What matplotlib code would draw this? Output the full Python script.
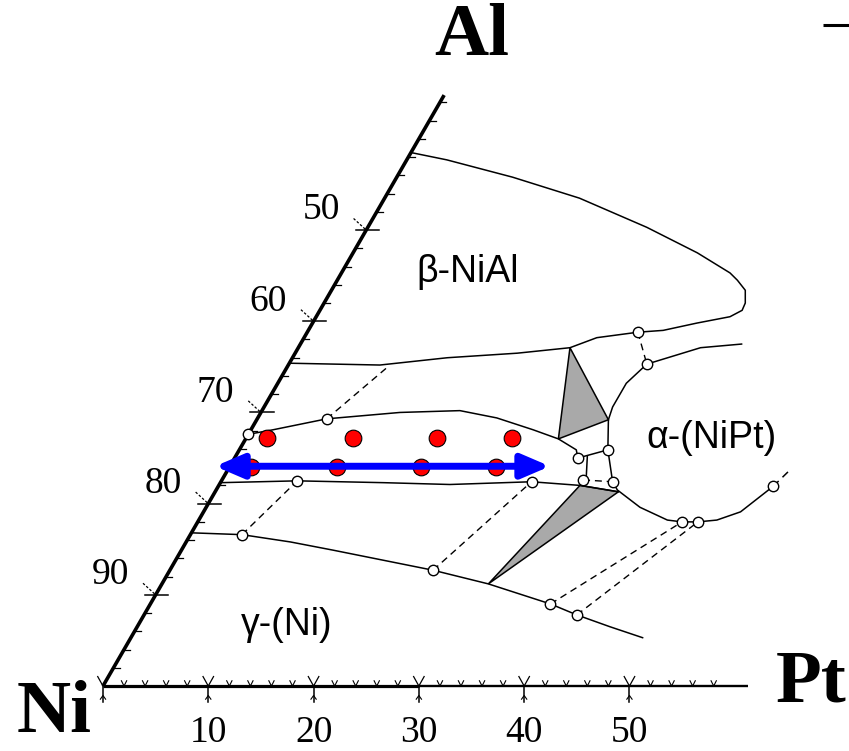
import numpy as np
import matplotlib.pyplot as plt

plt.rcParams['font.family'] = ['Liberation Sans', 'DejaVu Sans']

# all compositions in at.% (Pt, Al), Ni is the balance

# beta-NiAl boundary, from the Ni-Al edge round the nose and back
beta_pt = [0, 3.8, 11.0, 18.5, 26.5, 32.7, 36.9, 38.0, 39.3, 40.0, 40.1, 39.3, 36.5, 33.7, 31.4, 27.8, 25.8, 21.1, 14.7, 8.7, 0]
beta_al = [58.5, 57.7, 55.8, 53.5, 50.3, 47.5, 45.3, 44.5, 43.4, 42.0, 41.2, 40.5, 39.8, 39.0, 38.8, 38.2, 37.1, 36.5, 36.0, 35.2, 35.4]

# gamma' band, upper and lower boundary
gpu_pt = [0, 2.1, 6.6, 13.2, 18.8, 22.7, 26.8, 29.7, 32.0, 32.6]
gpu_al = [27.6, 28.1, 29.3, 30.0, 30.2, 29.4, 28.1, 27.1, 25.9, 25.0]
gpl_pt = [0, 7.2, 15.5, 21.9, 29.5, 34.3, 38.3]
gpl_al = [22.3, 22.5, 22.3, 22.1, 22.4, 22.0, 21.3]

# gamma-(Ni) boundary
g_pt = [0, 4.9, 9.9, 14.4, 19.7, 25.0, 31.0, 38.0, 41.1, 44.9, 48.6]
g_al = [16.8, 16.6, 15.8, 14.9, 13.8, 12.7, 11.2, 9.0, 7.8, 6.5, 5.3]

# alpha-(NiPt) boundary
alpha_pt = [41.9, 38.2, 34.0, 33.1, 33.1, 33.4, 35.0, 37.2, 38.1, 41.2, 44.5, 46.0, 47.5, 49.2, 51.0, 52.7]
alpha_al = [37.5, 37.1, 35.3, 33.2, 30.6, 29.2, 25.9, 22.4, 21.5, 19.6, 18.2, 18.0, 18.0, 18.2, 19.1, 21.9]
alpha_end_pt = [52.7, 53.4]
alpha_end_al = [21.9, 23.7]

# three-phase triangles
tri1_pt = [25.8, 33.4, 29.7]
tri1_al = [37.1, 29.2, 27.1]
tri2_pt = [34.3, 38.3, 31.0]
tri2_al = [22.0, 21.3, 11.2]

# tie lines (dashed) and short solid lines
tie_pt = [(4.9, 7.2), (25.0, 29.5), (6.6, 9.5), (31.4, 34.0), (38.0, 46.0), (41.1, 47.5), (34.3, 37.2)]
tie_al = [(16.6, 22.5), (12.7, 22.4), (29.3, 34.9), (38.8, 35.3), (9.0, 18.0), (7.8, 18.0), (22.6, 22.4)]
seg_pt = [(32.6, 35.0), (33.4, 34.4)]
seg_al = [(25.0, 25.9), (25.2, 23.0)]

# measured phase compositions (open circles)
circ_pt = [0, 6.6, 7.2, 4.9, 25.0, 29.5, 32.6, 35.0, 34.3, 37.2, 38.0, 41.1, 46.0, 47.5, 52.7, 31.4, 34.0]
circ_al = [27.6, 29.3, 22.5, 16.6, 12.7, 22.4, 25.0, 25.9, 22.6, 22.4, 9.0, 7.8, 18.0, 18.0, 21.9, 38.8, 35.3]

# alloys (red dots)
dot_pt = [2.0, 10.1, 18.1, 25.2, 2.1, 10.2, 18.2, 25.3]
dot_al = [27.2, 27.2, 27.2, 27.2, 24.0, 24.0, 24.0, 24.0]

# blue arrow
arrow_pt = [-1.4, 30.4]
arrow_al = [24.1, 24.1]

pt_ticks = [10, 20, 30, 40, 50]
al_ticks = [50, 40, 30, 20, 10]
al_labels = ['50', '60', '70', '80', '90']

S3 = np.sqrt(3) / 2


def tern(pt, al):
    pt = np.asarray(pt, dtype=float)
    al = np.asarray(al, dtype=float)
    return pt + al / 2, al * S3


fig = plt.figure(figsize=(8.49, 7.51), dpi=100)
ax = fig.add_axes([0, 0, 1, 1])
ax.set_xlim(-9.78, 70.85)
ax.set_ylim(-6.17, 65.15)
ax.axis('off')

thin = 1.1
dash = (0, (5, 3.5))

# axes of the triangle
x, y = tern([0, 0], [0, 64.8])
ax.plot(x, y, color='black', lw=2.6, solid_capstyle='butt')
x, y = tern([0, 30], [0, 0])
ax.plot(x, y, color='black', lw=2.3, solid_capstyle='butt')
x, y = tern([30, 61.3], [0, 0])
ax.plot(x, y, color='black', lw=1.7, solid_capstyle='butt')

# ticks on the Ni-Pt edge
for p in range(0, 60, 2):
    x0, y0 = tern(p, 0)
    if p % 10 == 0:
        ax.plot([x0 - 0.5, x0, x0 + 0.5], [0.9, y0, 0.9], color='black', lw=0.9)
        ax.plot([x0, x0], [y0, -1.5], color='black', lw=1.1)
        ax.plot([x0 - 0.25, x0, x0 + 0.25], [-1.25, -0.9, -1.25], color='black', lw=0.8)
    else:
        ax.plot([x0 - 0.25, x0, x0 + 0.25], [0.5, y0, 0.5], color='black', lw=0.8)

# ticks on the Ni-Al edge
for a in range(2, 65, 2):
    x0, y0 = tern(0, a)
    if a % 10 == 0 and a <= 50:
        ax.plot([x0 - 1.0, x0 + 1.2], [y0, y0], color='black', lw=1.1)
        ax.plot([x0 - 1.2, x0], [y0 + 1.1, y0], color='black', lw=0.9, ls=(0, (2, 1.5)))
    else:
        ax.plot([x0, x0 + 0.6], [y0, y0], color='black', lw=0.9)

# tick labels
for p in pt_ticks:
    x0, y0 = tern(p, 0)
    ax.text(x0, -4.4, str(p), family='Liberation Serif', fontsize=27, ha='center', va='center')
for a, lab in zip(al_ticks, al_labels):
    x0, y0 = tern(0, a)
    ax.text(x0 - 4.3, y0 + 1.9, lab, family='Liberation Serif', fontsize=27, ha='center', va='center')

# phase boundaries
x, y = tern(beta_pt, beta_al)
ax.plot(x, y, color='black', lw=thin)
x, y = tern(gpu_pt, gpu_al)
ax.plot(x, y, color='black', lw=thin)
x, y = tern(gpl_pt, gpl_al)
ax.plot(x, y, color='black', lw=thin)
x, y = tern(g_pt, g_al)
ax.plot(x, y, color='black', lw=thin)
x, y = tern(alpha_pt, alpha_al)
ax.plot(x, y, color='black', lw=thin)
x, y = tern(alpha_end_pt, alpha_end_al)
ax.plot(x, y, color='black', lw=thin, ls=dash)

for tp, ta in [(tri1_pt, tri1_al), (tri2_pt, tri2_al)]:
    x, y = tern(tp, ta)
    ax.fill(x, y, facecolor='#a9a9a9', edgecolor='black', lw=thin)

for tp, ta in zip(tie_pt, tie_al):
    x, y = tern(tp, ta)
    ax.plot(x, y, color='black', lw=1.0, ls=dash)
for tp, ta in zip(seg_pt, seg_al):
    x, y = tern(tp, ta)
    ax.plot(x, y, color='black', lw=thin)

x, y = tern(circ_pt, circ_al)
ax.plot(x, y, 'o', ms=7.5, mfc='white', mec='black', mew=1.0, zorder=4)

x, y = tern(dot_pt, dot_al)
ax.plot(x, y, 'o', ms=12, mfc='red', mec='black', mew=0.8, zorder=5)

x, y = tern(arrow_pt, arrow_al)
ax.annotate('', xy=(x[1], y[1]), xytext=(x[0], y[0]),
            arrowprops=dict(arrowstyle='<|-|>,head_length=1.4,head_width=0.6',
                            color='blue', lw=5, mutation_scale=12,
                            shrinkA=0, shrinkB=0), zorder=6)

# labels
ax.text(34.6, 39.3, 'β-NiAl', fontsize=27, ha='center', va='center')
ax.text(57.8, 23.6, 'α-(NiPt)', fontsize=27, ha='center', va='center')
ax.text(17.4, 5.8, 'γ-(Ni)', fontsize=27, ha='center', va='center')

ax.text(-4.6, -2.7, 'Ni', family='Liberation Serif', weight='bold', fontsize=54, ha='center', va='center')
ax.text(67.3, 0.2, 'Pt', family='Liberation Serif', weight='bold', fontsize=54, ha='center', va='center')
ax.text(35.0, 61.6, 'Al', family='Liberation Serif', weight='bold', fontsize=54, ha='center', va='center')

ax.plot([68.4, 70.85], [62.8, 62.8], color='black', lw=2.2, solid_capstyle='butt')

plt.savefig('out.png', dpi=100)
